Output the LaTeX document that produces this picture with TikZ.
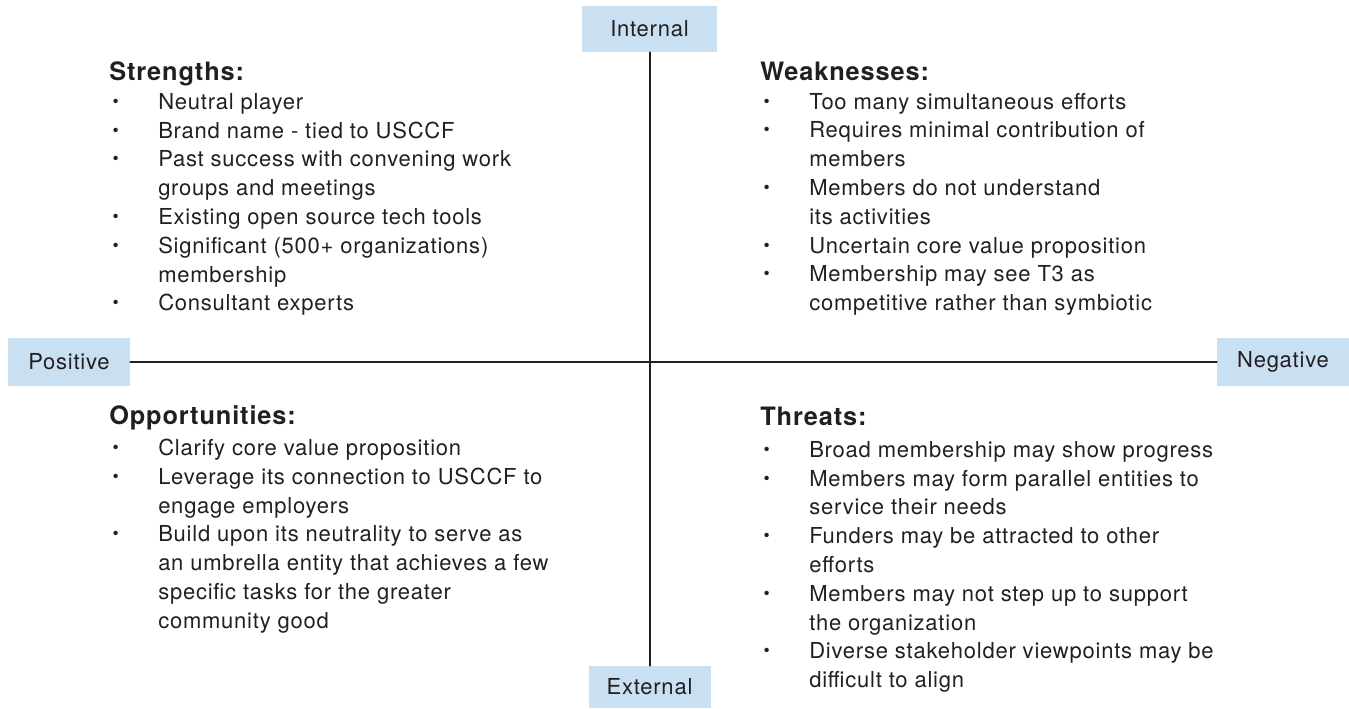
\documentclass[tikz,border=0pt]{standalone}
\usepackage{fontspec}
\setmainfont[LetterSpace=3.5]{TeX Gyre Heros}
\definecolor{boxblue}{HTML}{C9DFF2}
\definecolor{ink}{HTML}{231F20}
\newcommand{\bul}{\makebox[36.75pt][l]{\hspace{2.5pt}\raisebox{1.5pt}{\scalebox{0.8}{\textbullet}}}}
\newcommand{\ind}{\hspace*{36.75pt}}
\newcommand{\head}[1]{{\fontsize{19}{21.6}\selectfont\bfseries #1}}

\begin{document}
\begin{tikzpicture}[x=0.75pt,y=-0.75pt,
  line cap=round,line join=round,
  every node/.style={text=ink},
  quad/.style={anchor=north west,align=left,inner sep=0pt,
    font=\fontsize{16.5}{21.6}\selectfont},
  tag/.style={fill=boxblue,inner sep=0pt,font=\fontsize{16.5}{19}\selectfont},
  axis/.style={draw=ink,line width=1.5pt}]
\useasboundingbox (0,0) rectangle (1349,708);

\node[tag,minimum width=101pt,minimum height=34.5pt] (int) at (649.5,29) {Internal};
\node[tag,minimum width=91.5pt,minimum height=36pt] (pos) at (69,362) {Positive};
\node[tag,minimum width=99pt,minimum height=36pt] (neg) at (1283,362) {Negative};
\node[tag,minimum width=91.5pt,minimum height=31.5pt] (ext) at (649.5,687) {External};

\draw[axis] (int.south) -- (int.south |- ext.north);
\draw[axis] (pos.east) -- (neg.west);

\node[quad] (str) at (109,61.5) {\head{Strengths:}\\
\bul Neutral player\\
\bul Brand name - tied to USCCF\\
\bul Past success with convening work\\
\ind groups and meetings\\
\bul Existing open source tech tools\\
\bul Significant (500+ organizations)\\
\ind membership\\
\bul Consultant experts};

\node[quad] (wea) at (760,61.5) {\head{Weaknesses:}\\
\bul Too many simultaneous efforts\\
\bul Requires minimal contribution of\\
\ind members\\
\bul Members do not understand\\
\ind its activities\\
\bul Uncertain core value proposition\\
\bul Membership may see T3 as\\
\ind competitive rather than symbiotic};

\node[quad] (opp) at (109,405.5) {\head{Opportunities:}\\[1.5pt]
\bul Clarify core value proposition\\
\bul Leverage its connection to USCCF to\\
\ind engage employers\\
\bul Build upon its neutrality to serve as\\
\ind an umbrella entity that achieves a few\\
\ind specific tasks for the greater\\
\ind community good};

\node[quad] (thr) at (760,406.5) {\head{Threats:}\\[2.5pt]
\bul Broad membership may show progress\\
\bul Members may form parallel entities to\\
\ind service their needs\\
\bul Funders may be attracted to other\\
\ind efforts\\
\bul Members may not step up to support\\
\ind the organization\\
\bul Diverse stakeholder viewpoints may be\\
\ind difficult to align};
\end{tikzpicture}
\end{document}
